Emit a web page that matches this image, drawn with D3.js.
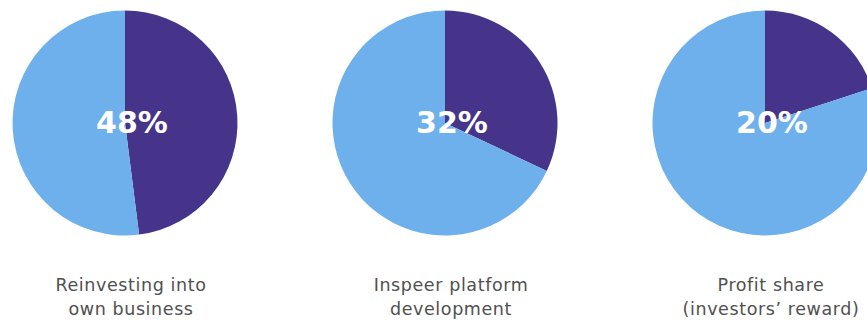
<!DOCTYPE html>
<html>
<head>
<meta charset="utf-8">
<script src="https://cdn.jsdelivr.net/npm/d3@7"></script>
<style>
  html, body { margin: 0; padding: 0; background: #fff; }
</style>
</head>
<body>
<svg id="chart"></svg>
<script>
// data
const categories = ["reinvest", "platform", "profit"];
const shares = [48, 32, 20];
const captions = [
  ["Reinvesting into", "own business"],
  ["Inspeer platform", "development"],
  ["Profit share", "(investors\u2019 reward)"]
];

const width = 867, height = 320;
const radius = 112.5;
const cy = 123;

const svg = d3.select("#chart")
  .attr("width", width)
  .attr("height", height);

// one pie per category, evenly spaced
const x = d3.scalePoint().domain(categories).range([125, 765]);

const pie = d3.pie().sort(null).value(d => d.value);
const arc = d3.arc().innerRadius(0).outerRadius(radius);
const color = d3.scaleOrdinal().domain(["share", "rest"]).range(["#46338a", "#6eb0eb"]);

categories.forEach((c, i) => {
  const g = svg.append("g")
    .attr("transform", `translate(${x(c)},${cy})`);

  const slices = pie([
    { key: "share", value: shares[i] },
    { key: "rest", value: 100 - shares[i] }
  ]);

  g.selectAll("path")
    .data(slices)
    .enter()
    .append("path")
    .attr("d", arc)
    .attr("fill", d => color(d.data.key));

  g.append("text")
    .attr("x", 7)
    .attr("y", 10)
    .attr("text-anchor", "middle")
    .attr("font-family", "DejaVu Sans")
    .attr("font-weight", "bold")
    .attr("font-size", "30px")
    .attr("fill", "#fff")
    .text(shares[i] + "%");

  // caption under the pie
  const t = svg.append("text")
    .attr("text-anchor", "middle")
    .attr("font-family", "DejaVu Sans")
    .attr("font-size", "17.5px")
    .attr("letter-spacing", "0.6px")
    .attr("fill", "#505050");
  captions[i].forEach((line, j) => {
    t.append("tspan")
      .attr("x", x(c) + 6)
      .attr("y", 291 + j * 24)
      .text(line);
  });
});
</script>
</body>
</html>
